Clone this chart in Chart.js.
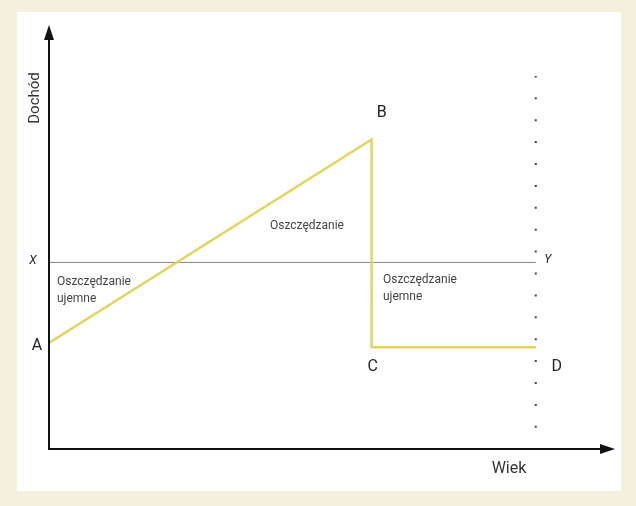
<!DOCTYPE html>
<html>
<head>
<meta charset="utf-8">
<script src="https://cdn.jsdelivr.net/npm/chart.js@4"></script>
<style>
  body { margin: 0; background: #f3f1dc; }
  #panel { position: absolute; left: 17px; top: 12px; width: 604px; height: 479px; background: #fff; }
  canvas { display: block; }
</style>
</head>
<body>
<div id="panel"><canvas id="chart" width="604" height="479"></canvas></div>
<script>
// income path A -> B -> C -> D (age, income)
const incomeAge = [0, 57, 57, 86];
const incomeValue = [25, 73, 24, 24];
const pointNames = ['A', 'B', 'C', 'D'];

// average income level X - Y
const levelAge = [0, 86];
const levelValue = [44, 44];
const levelNames = ['X', 'Y'];

// end of life (dotted)
const endAge = [86, 86];
const endValue = [5, 88];

const axisTitleX = 'Wiek';
const axisTitleY = 'Dochód';
const savingLabel = 'Oszczędzanie';
const dissavingLabel = ['Oszczędzanie', 'ujemne'];

const toXY = (xs, ys) => xs.map((x, i) => ({ x, y: ys[i] }));

const labelsPlugin = {
  id: 'labels',
  afterDraw(chart) {
    const { ctx, chartArea: a, scales: { x, y } } = chart;
    ctx.save();
    // axes with arrows
    ctx.strokeStyle = '#111';
    ctx.fillStyle = '#111';
    ctx.lineWidth = 2;
    ctx.beginPath();
    ctx.moveTo(a.left, a.top + 10);
    ctx.lineTo(a.left, a.bottom);
    ctx.lineTo(a.right - 10, a.bottom);
    ctx.stroke();
    ctx.beginPath();
    ctx.moveTo(a.left, a.top);
    ctx.lineTo(a.left - 5, a.top + 15);
    ctx.lineTo(a.left + 5, a.top + 15);
    ctx.closePath();
    ctx.fill();
    ctx.beginPath();
    ctx.moveTo(a.right, a.bottom);
    ctx.lineTo(a.right - 15, a.bottom - 5);
    ctx.lineTo(a.right - 15, a.bottom + 5);
    ctx.closePath();
    ctx.fill();

    ctx.textAlign = 'center';
    ctx.textBaseline = 'middle';
    ctx.fillStyle = '#333';
    ctx.font = '16px Roboto';
    ctx.fillText(axisTitleX, 492, 457);
    ctx.save();
    ctx.translate(18, 86);
    ctx.rotate(-Math.PI / 2);
    ctx.font = '15px Roboto';
    ctx.fillText(axisTitleY, 0, 0);
    ctx.restore();

    // point letters
    const offs = [[-12, 3], [10, -26], [1, 20], [21, 20]];
    ctx.fillStyle = '#222';
    ctx.font = '16px Roboto';
    pointNames.forEach((n, i) => {
      ctx.fillText(n, x.getPixelForValue(incomeAge[i]) + offs[i][0], y.getPixelForValue(incomeValue[i]) + offs[i][1]);
    });
    const loffs = [[-16, -1], [12, -2]];
    ctx.font = 'italic 12px Roboto';
    levelNames.forEach((n, i) => {
      ctx.fillText(n, x.getPixelForValue(levelAge[i]) + loffs[i][0], y.getPixelForValue(levelValue[i]) + loffs[i][1]);
    });

    // region notes
    ctx.fillStyle = '#444';
    ctx.font = '12px Roboto';
    ctx.fillText(savingLabel, 290, 214);
    ctx.textAlign = 'left';
    [[40, 270], [366, 268]].forEach(([px, py]) => {
      dissavingLabel.forEach((t, j) => ctx.fillText(t, px, py + j * 17));
    });
    ctx.restore();
  }
};

new Chart(document.getElementById('chart'), {
  type: 'line',
  data: {
    datasets: [
      { data: toXY(incomeAge, incomeValue), borderColor: '#e3d45e', borderWidth: 2.5, pointRadius: 0, tension: 0 },
      { data: toXY(levelAge, levelValue), borderColor: '#8c8282', borderWidth: 1, pointRadius: 0 },
      { data: toXY(endAge, endValue), borderColor: '#444', borderWidth: 2, borderDash: [2, 19.9], pointRadius: 0 }
    ]
  },
  options: {
    responsive: false,
    animation: false,
    layout: { padding: { left: 32, top: 13, right: 6, bottom: 42 } },
    plugins: { legend: { display: false }, tooltip: { enabled: false } },
    scales: {
      x: { type: 'linear', min: 0, max: 100, display: false },
      y: { type: 'linear', min: 0, max: 100, display: false }
    }
  },
  plugins: [labelsPlugin]
});
</script>
</body>
</html>
